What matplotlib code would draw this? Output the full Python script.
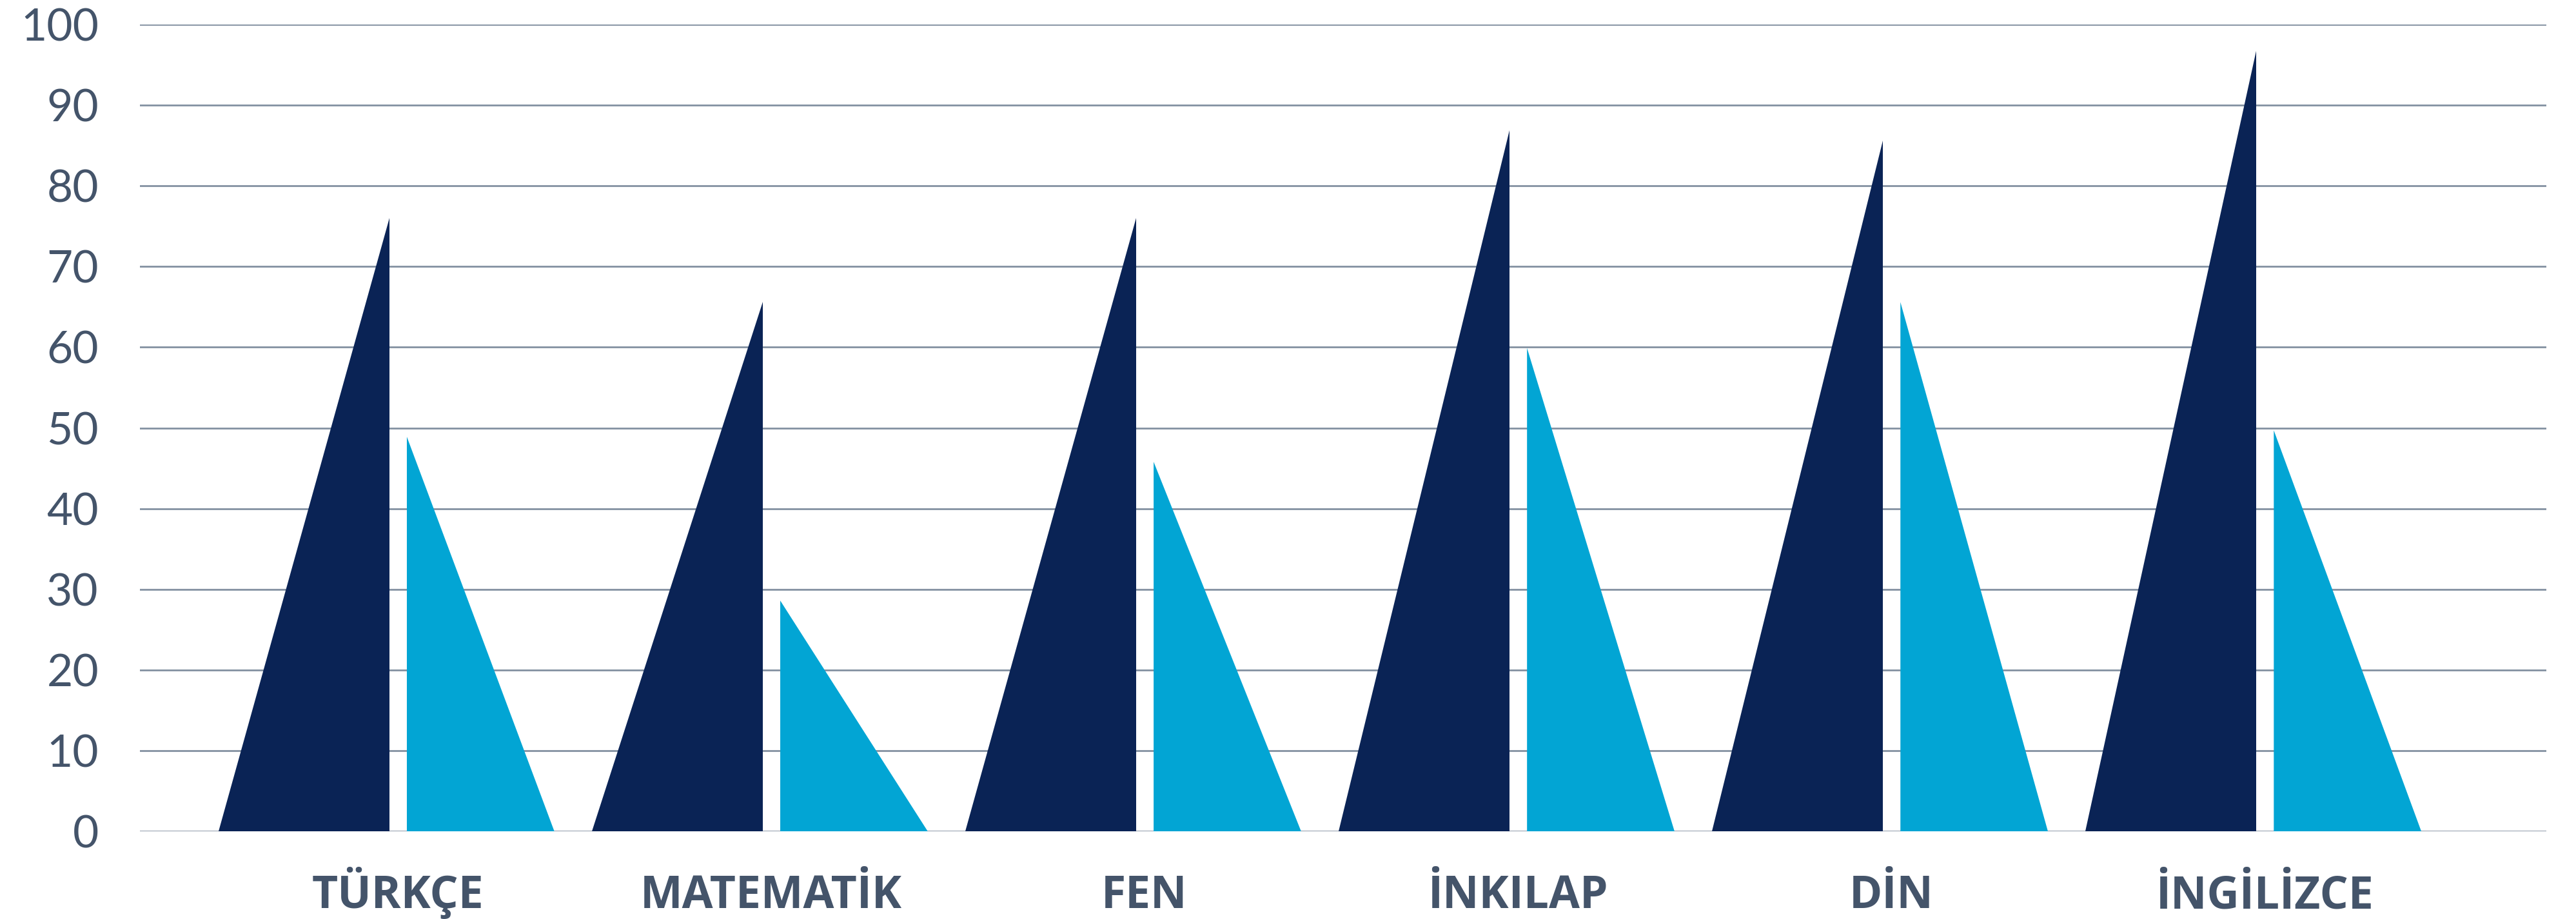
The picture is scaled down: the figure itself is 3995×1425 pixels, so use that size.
import matplotlib
matplotlib.use("Agg")
import matplotlib.pyplot as plt
from matplotlib.patches import Polygon

# Data
dersler = ["TÜRKÇE", "MATEMATİK", "FEN", "İNKILAP", "DİN", "İNGİLİZCE"]
seri1 = [76.0, 65.6, 76.0, 86.9, 85.6, 96.7]
seri2 = [48.9, 28.6, 45.8, 59.9, 65.6, 49.7]
y_ticks = [0, 10, 20, 30, 40, 50, 60, 70, 80, 90, 100]

koyu = "#0A2355"
acik = "#02A5D4"
yazi = "#44546A"
izgara = "#8391A1"

fig = plt.figure(figsize=(39.95, 14.25), dpi=100)
ax = fig.add_axes([0.0543, 0.0954, 0.9342, 0.8779])

# Triangle shapes (right triangles), width in category units
for i, (v1, v2) in enumerate(zip(seri1, seri2)):
    # dark one: vertical edge on the right
    ax.add_patch(Polygon([(i - 0.48, 0), (i - 0.022, 0), (i - 0.022, v1)],
                         closed=True, facecolor=koyu, edgecolor="none", zorder=3))
    # light one: vertical edge on the left
    ax.add_patch(Polygon([(i + 0.025, 0), (i + 0.025, v2), (i + 0.42, 0)],
                         closed=True, facecolor=acik, edgecolor="none", zorder=3))

ax.set_xlim(-0.69, 5.755)
ax.set_ylim(0, 100)
ax.set_yticks(y_ticks)
ax.set_yticklabels([str(t) for t in y_ticks], fontfamily="Lato", fontweight="normal",
                   fontsize=50, color=yazi)
ax.set_xticks(range(len(dersler)))
ax.set_xticklabels(dersler, fontfamily="Open Sans", fontweight="bold",
                   fontsize=50, color=yazi)
for lbl in ax.get_xticklabels():
    lbl.set_verticalalignment("baseline")
ax.tick_params(axis="y", length=0, pad=46)
ax.tick_params(axis="x", length=0, pad=86)

ax.grid(axis="y", color=izgara, linewidth=2, zorder=1)
ax.set_axisbelow(True)
for s in ax.spines.values():
    s.set_visible(False)

fig.savefig("out.png", dpi=100, facecolor="white")
